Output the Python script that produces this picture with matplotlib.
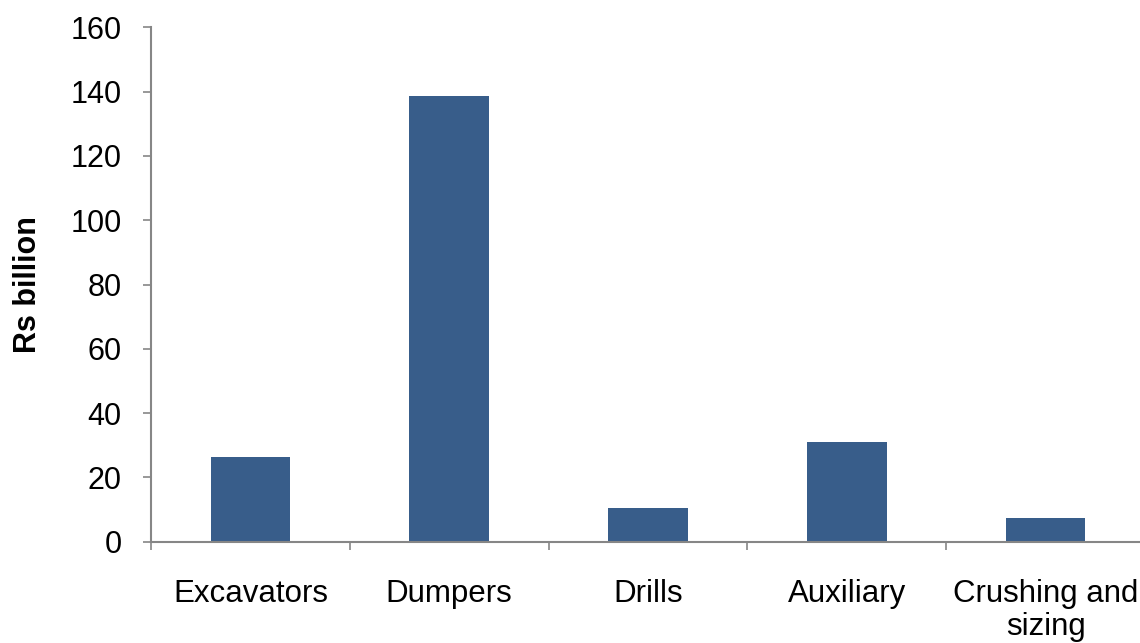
import numpy as np
import matplotlib
matplotlib.use('Agg')
import matplotlib.pyplot as plt

categories = ['Excavators', 'Dumpers', 'Drills', 'Auxiliary', 'Crushing and\nsizing']
values = [26.3, 138.7, 10.4, 31.0, 7.5]

plt.rcParams['font.family'] = ['Liberation Sans', 'DejaVu Sans']

fig = plt.figure(figsize=(11.4, 6.43), dpi=100)
ax = fig.add_axes([151/1140, 1-541.7/643, (1145-151)/1140, (541.7-27.4)/643])

x = np.arange(len(categories))
ax.bar(x, values, width=0.4, color='#385D8A', zorder=2)

axis_color = '#868686'
ax.set_xlim(-0.5, len(categories)-0.5)
ax.set_ylim(0, 160)
ax.set_yticks(np.arange(0, 161, 20))
ax.tick_params(axis='y', direction='out', length=6, width=1.2, color=axis_color,
               labelsize=22, pad=15)

# boundary ticks between categories, labels centred on the minor ticks
ax.set_xticks(np.arange(-0.5, len(categories), 1.0))
ax.set_xticklabels([])
ax.set_xticks(x, minor=True)
ax.set_xticklabels(categories, minor=True, fontsize=22.5, linespacing=1.12)
ax.tick_params(axis='x', which='major', direction='out', length=6, width=1.2, color=axis_color)
ax.tick_params(axis='x', which='minor', length=0, pad=27)

for s in ['top', 'right']:
    ax.spines[s].set_visible(False)
for s in ['left', 'bottom']:
    ax.spines[s].set_color(axis_color)
    ax.spines[s].set_linewidth(1.5)

ax.set_ylabel('Rs billion', fontsize=22, fontweight='bold', labelpad=20)

fig.savefig('out.png', dpi=100)
